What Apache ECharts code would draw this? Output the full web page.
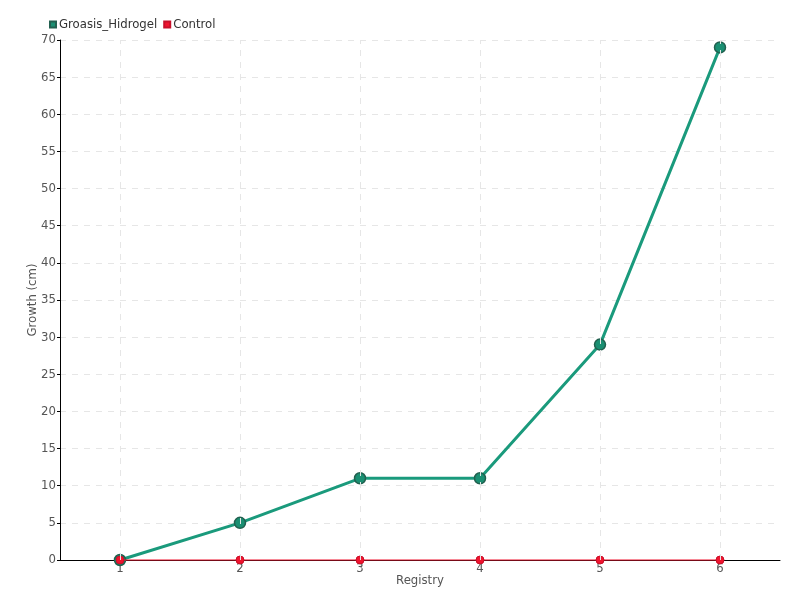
<!DOCTYPE html>
<html><head><meta charset="utf-8">
<script src="https://cdn.jsdelivr.net/npm/echarts@6/dist/echarts.min.js"></script>
<style>html,body{margin:0;padding:0;background:#fff}#c{width:800px;height:600px}</style>
</head><body><div id="c"></div>
<script>
const categories = ['1','2','3','4','5','6'];
const groasis = [0,5,11,11,29,69];
const control = [0,0,0,0,0,0];
const FONT = '"DejaVu Sans Condensed",sans-serif';
const chart = echarts.init(document.getElementById('c'));
const vlines = categories.map(c => ({xAxis: c}));
chart.setOption({
  animation:false,
  textStyle:{fontFamily:FONT},
  legend:{left:44, top:13, itemWidth:6, itemHeight:6, itemGap:6, icon:'rect',
    textStyle:{fontFamily:FONT, fontSize:13, color:'#333', padding:[0,0,0,-2]},
    data:['Groasis_Hidrogel','Control']},
  grid:{left:60, right:20, top:40, bottom:40, outerBoundsMode:'none', containLabel:false},
  xAxis:{type:'category', data:categories, boundaryGap:true,
    name:'Registry', nameLocation:'middle', nameGap:14, nameMoveOverlap:false,
    nameTextStyle:{fontFamily:FONT, fontSize:13, color:'#555'},
    axisLine:{lineStyle:{color:'#000'}},
    axisTick:{show:false},
    axisLabel:{fontFamily:FONT, fontSize:13, color:'#555', margin:2},
    splitLine:{show:false}},
  yAxis:{type:'value', min:0, max:70, interval:5,
    name:'Growth (cm)', nameLocation:'middle', nameGap:21, nameMoveOverlap:false,
    nameTextStyle:{fontFamily:FONT, fontSize:13, color:'#555'},
    axisLine:{show:true, lineStyle:{color:'#000'}},
    axisTick:{show:true, length:3, lineStyle:{color:'#000'}},
    axisLabel:{fontFamily:FONT, fontSize:13, color:'#555', margin:4},
    splitLine:{show:true, lineStyle:{color:'#e6e6e6', type:[6,6]}}},
  series:[
    {name:'Groasis_Hidrogel', type:'line', data:groasis, z:3, clip:false,
      itemStyle:{color:'#1a8f72', borderColor:'#22604f', borderWidth:1.5},
      lineStyle:{color:'#1a9a7c', width:3},
      symbol:'circle', symbolSize:11,
      markLine:{silent:true, symbol:'none', label:{show:false},
        lineStyle:{color:'#e6e6e6', type:[6,6], width:1}, data:vlines}},
    {name:'Control', type:'line', data:control, z:4, clip:false,
      itemStyle:{color:'#f0142e', borderColor:'#c8102a', borderWidth:1},
      lineStyle:{color:'#f0142e', width:1.2},
      symbol:'circle', symbolSize:8}
  ]
});
</script></body></html>
